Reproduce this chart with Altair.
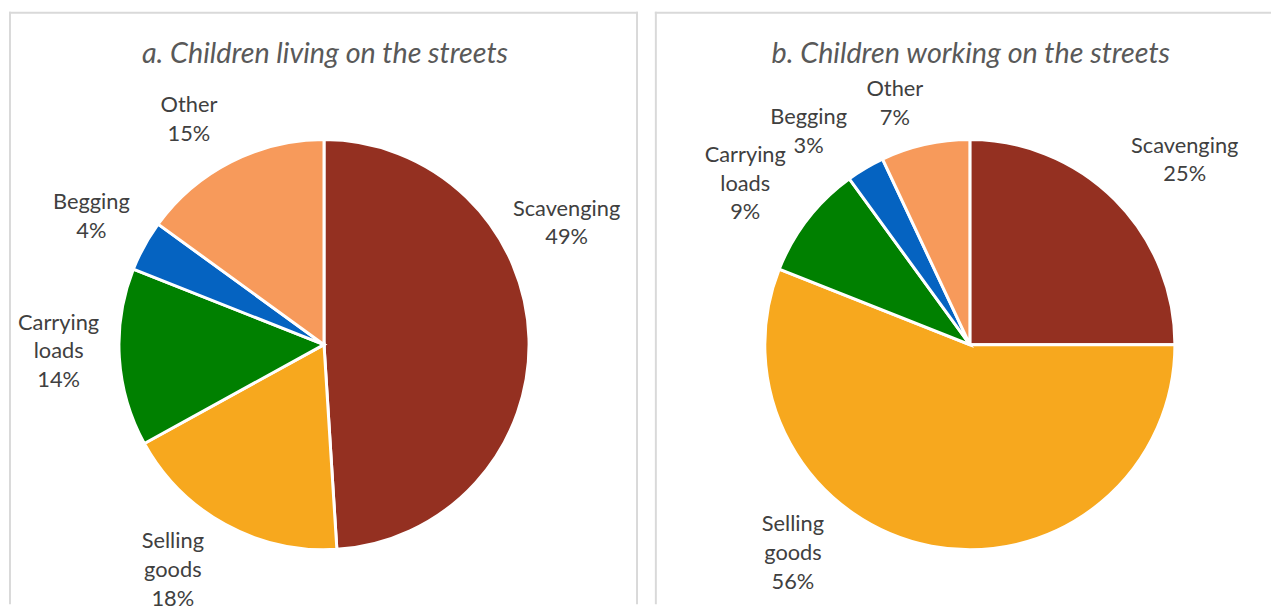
import math
import altair as alt
import pandas as pd

# ---- data ----
categories = ["Scavenging", "Selling goods", "Carrying loads", "Begging", "Other"]
label_names = ["Scavenging", "Selling\ngoods", "Carrying\nloads", "Begging", "Other"]
living = [49, 18, 14, 4, 15]
working = [25, 56, 9, 3, 7]
titles = ["a. Children living on the streets", "b. Children working on the streets"]
figure_title = "Figure 20: Main activities of children on the streets"

# ---- styling ----
colors = ["#943021", "#F7A81E", "#008000", "#0563C1", "#F79A5B"]
# label placement (Excel "best fit"): angle nudge in % of circle, distance in px
living_shift = [-6.9, 1.4, 0.6, 0.0, -1.1]
working_shift = [1.2, 8.2, -0.6, -1.8, -1.3]
living_label_r = [274, 274, 268, 268, 265]
working_label_r = [286, 276, 279, 270, 255]

FONT = "Lato"
H = 598
PIE_R = 207
CX, CY = 318, 336
LINE_H = 29
BORDER = "#d9d9d9"


def panel(values, shifts, label_r, title, width, right_border):
    df = pd.DataFrame({
        "cat": categories,
        "name": label_names,
        "value": values,
        "order": list(range(len(categories))),
        "shift": shifts,
        "lr": label_r,
    })
    df["mid"] = df["value"].cumsum() - df["value"] / 2 + df["shift"]
    df["label"] = df["name"] + "\n" + df["value"].astype(str) + "%"
    df["nlines"] = df["label"].str.count("\n") + 1

    theta_scale = alt.Scale(domain=[0, 100], range=[0, 2 * math.pi])
    base = alt.Chart(df)

    arcs = base.mark_arc(radius=PIE_R, stroke="white", strokeWidth=3).encode(
        theta=alt.Theta("value:Q", stack=True, scale=theta_scale),
        order=alt.Order("order:O"),
        color=alt.Color("cat:N", scale=alt.Scale(domain=categories, range=colors), legend=None),
        x=alt.value(CX),
        y=alt.value(CY),
    )

    label_layers = []
    for n in (2, 3):
        label_layers.append(
            base.transform_filter(alt.datum.nlines == n).mark_text(
                font=FONT, fontSize=22, color="#404040", lineBreak="\n",
                lineHeight=LINE_H, align="center", baseline="middle",
                dy=-(n - 1) * LINE_H / 2,
            ).encode(
                theta=alt.Theta("mid:Q", stack=False, scale=theta_scale),
                radius=alt.Radius("lr:Q", scale=None),
                text=alt.Text("label:N"),
                x=alt.value(CX),
                y=alt.value(CY),
            )
        )

    title_layer = alt.Chart(alt.Data(values=[{"t": title}])).mark_text(
        font=FONT, fontSize=29, fontStyle="italic", color="#595959",
        align="center", baseline="middle",
    ).encode(text="t:N", x=alt.value(CX + 1), y=alt.value(43))

    one = alt.Data(values=[{"k": 1}])
    layers = [
        alt.Chart(one).mark_rule(color=BORDER, strokeWidth=2).encode(
            x=alt.value(1), y=alt.value(0), y2=alt.value(H)),
        alt.Chart(one).mark_rule(color=BORDER, strokeWidth=2).encode(
            x=alt.value(0), x2=alt.value(width), y=alt.value(1)),
    ]
    if right_border:
        layers.append(alt.Chart(one).mark_rule(color=BORDER, strokeWidth=2).encode(
            x=alt.value(width - 1), y=alt.value(0), y2=alt.value(H)))
    layers += [arcs] + label_layers + [title_layer]
    return alt.layer(*layers).properties(width=width, height=H)


left = panel(living, living_shift, living_label_r, titles[0], 635, True)
right = panel(working, working_shift, working_label_r, titles[1], 622, False)

chart = alt.hconcat(left, right, spacing=15).properties(
    padding={"top": 0, "left": 0, "right": 0, "bottom": 0},
    description=figure_title,
).configure_view(stroke=None)

chart.save("out.html", embed_options={"renderer": "svg", "actions": False})
